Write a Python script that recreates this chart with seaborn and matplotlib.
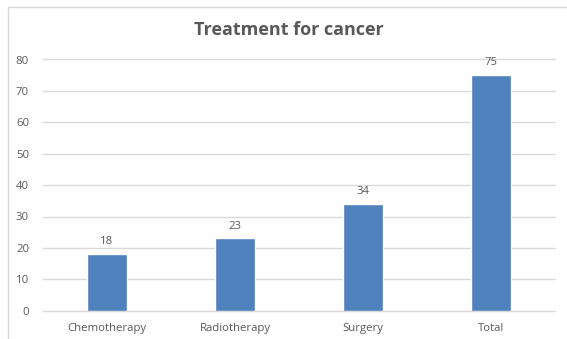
import matplotlib
matplotlib.use("Agg")
import matplotlib.pyplot as plt
import seaborn as sns
import pandas as pd
from matplotlib.lines import Line2D

categories = ["Chemotherapy", "Radiotherapy", "Surgery", "Total"]
values = [18, 23, 34, 75]
y_ticks = [0, 10, 20, 30, 40, 50, 60, 70, 80]

sns.set_theme(style="white")
plt.rcParams["font.family"] = ["Open Sans", "DejaVu Sans"]

text_color = "#595959"
bar_color = "#4f81bd"
grid_color = "#d9d9d9"

df = pd.DataFrame({"treatment": categories, "count": values})

fig = plt.figure(figsize=(5.67, 3.39), dpi=100)
ax = fig.add_axes([43 / 567, 1 - 310.7 / 339, 512 / 567, (310.7 - 59.5) / 339])

sns.barplot(data=df, x="treatment", y="count", color=bar_color, width=0.31,
            saturation=1, ax=ax, zorder=3)

ax.set_ylim(0, 80)
ax.set_xlim(-0.5, len(categories) - 0.5)
ax.set_yticks(y_ticks)
ax.yaxis.grid(True, color=grid_color, linewidth=1, zorder=0)
for gl in ax.get_ygridlines():
    gl.set_clip_on(False)
ax.set_axisbelow(True)
for s in ax.spines.values():
    s.set_visible(False)
ax.tick_params(axis="both", length=0, labelsize=8.2, labelcolor=text_color)
ax.tick_params(axis="x", pad=9)
ax.tick_params(axis="y", pad=10)
ax.set_xlabel("")
ax.set_ylabel("")

for container in ax.containers:
    ax.bar_label(container, labels=[str(v) for v in values], padding=5,
                 fontsize=8.2, color=text_color)

fig.text(289 / 567, 1 - 30 / 339, "Treatment for cancer", ha="center", va="center",
         fontsize=13, fontweight="bold", color=text_color)

# chart frame (top and left edges)
fig.add_artist(Line2D([8 / 567, 1], [1 - 7 / 339, 1 - 7 / 339], transform=fig.transFigure,
                      color=grid_color, linewidth=1))
fig.add_artist(Line2D([8 / 567, 8 / 567], [0, 1 - 7 / 339], transform=fig.transFigure,
                      color=grid_color, linewidth=1))

fig.savefig("out.png", dpi=100, facecolor="white")
